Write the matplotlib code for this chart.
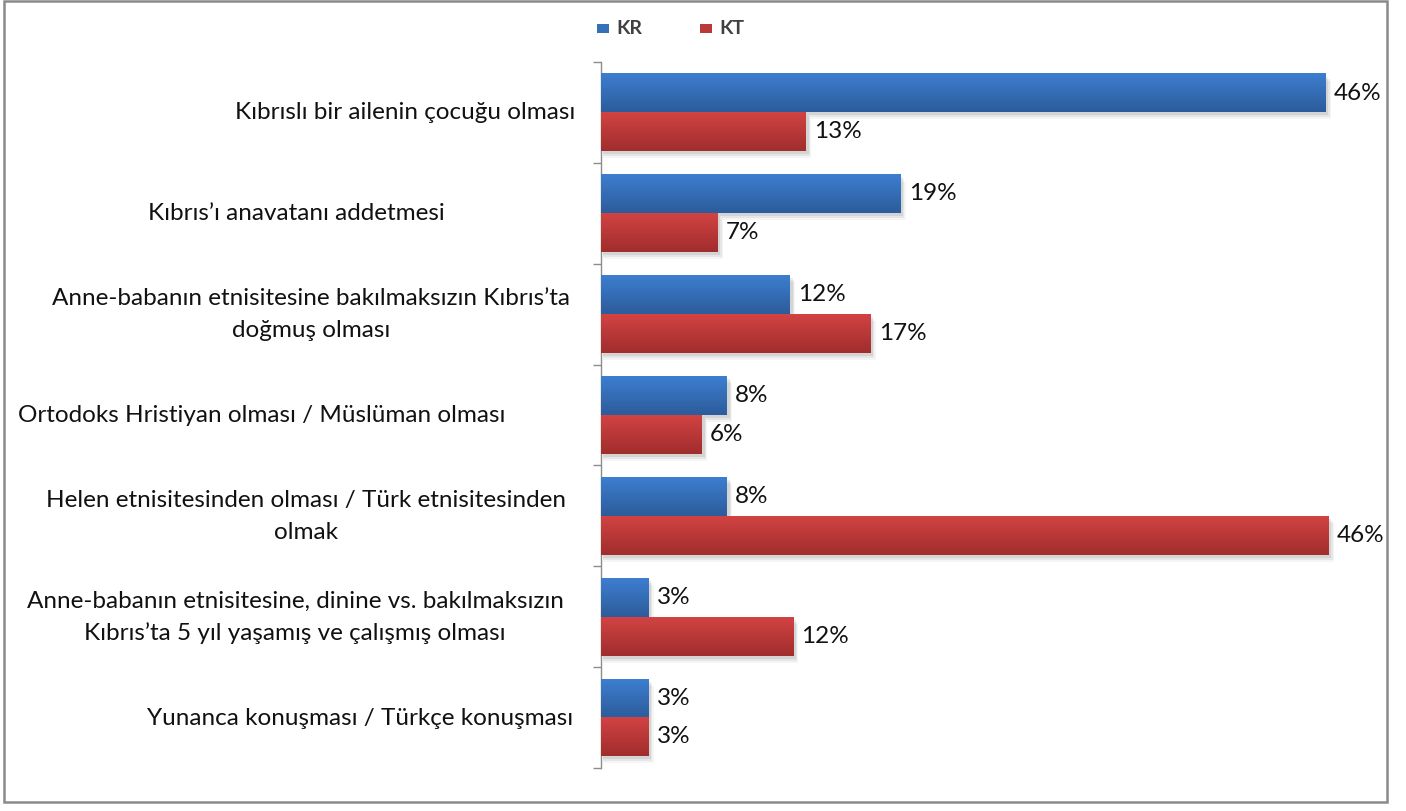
import numpy as np
import matplotlib
matplotlib.use("Agg")
import matplotlib.pyplot as plt
from matplotlib.patches import Rectangle
from matplotlib.colors import LinearSegmentedColormap

plt.rcParams["font.family"] = ["Lato", "DejaVu Sans"]

categories = [
    "Kıbrıslı bir ailenin çocuğu olması",
    "Kıbrıs’ı anavatanı addetmesi",
    "Anne-babanın etnisitesine bakılmaksızın Kıbrıs’ta\ndoğmuş olması",
    "Ortodoks Hristiyan olması / Müslüman olması",
    "Helen etnisitesinden olması / Türk etnisitesinden\nolmak",
    "Anne-babanın etnisitesine, dinine vs. bakılmaksızın\nKıbrıs’ta 5 yıl yaşamış ve çalışmış olması",
    "Yunanca konuşması / Türkçe konuşması",
]
kr_values = [46.0, 19.0, 12.0, 8.0, 8.0, 3.0, 3.0]
kt_values = [13.0, 7.4, 17.1, 6.4, 46.2, 12.2, 3.0]
series_names = ["KR", "KT"]

# label centre x (pixels) - the original labels are not all aligned the same way
label_cx = [405, 296, 311, 262, 306, 295, 360]

W, H = 1406, 811
fig = plt.figure(figsize=(W / 100, H / 100), dpi=100)
ax = fig.add_axes([601 / W, 1 - 768 / H, 789 / W, 706 / H])

blue_cmap = LinearSegmentedColormap.from_list("b", ["#3d7ed0", "#2c5c9b"])
red_cmap = LinearSegmentedColormap.from_list("r", ["#d24343", "#a12d2d"])
grad = np.linspace(0, 1, 64).reshape(-1, 1)

y = np.arange(len(categories))
h = 0.385
for vals, off, cmap, col in [(kr_values, -h / 2, blue_cmap, "#3670b8"),
                             (kt_values, h / 2, red_cmap, "#bb3838")]:
    bars = ax.barh(y + off, vals, height=h, color=col, zorder=3)
    for b, v in zip(bars, vals):
        x0, y0 = b.get_x(), b.get_y()
        w, bh = b.get_width(), b.get_height()
        # soft shadow under the bar
        for k, a in enumerate([0.08, 0.06, 0.04]):
            ax.add_patch(Rectangle((x0 + 0.1, y0 + 0.03 + 0.02 * k), w + 0.08 * (k + 1), bh,
                                   color="#000000", alpha=a, lw=0, zorder=2))
        ax.imshow(grad, cmap=cmap, aspect="auto", extent=(x0, x0 + w, y0 + bh, y0),
                  zorder=4, interpolation="bilinear")
        ax.annotate(f"{v:.0f}%", (v, y0 + bh / 2), xytext=(6, 0), textcoords="offset points",
                    ha="left", va="center", fontsize=17.5, color="#111111", zorder=5)

ax.set_xlim(0, 50.1)
ax.set_ylim(len(categories) - 0.5, -0.5)
ax.set_yticks(np.arange(-0.5, len(categories), 1.0))
ax.set_yticklabels([])
ax.tick_params(axis="y", direction="out", length=6, color="#8c8c8c", width=1)
ax.set_xticks([])
for s in ["top", "right", "bottom"]:
    ax.spines[s].set_visible(False)
ax.spines["left"].set_color("#8c8c8c")
ax.spines["left"].set_linewidth(1)

for i, (lab, cx) in enumerate(zip(categories, label_cx)):
    fig.text(cx / W, 1 - (62 + 101 * (i + 0.5)) / H, lab, ha="center", va="center",
             multialignment="center", fontsize=17.5, color="#111111", linespacing=1.6)

# legend
for name, col, lx in zip(series_names, ["#3670b8", "#bb3838"], [597, 700]):
    fig.patches.append(Rectangle((lx / W, 1 - 33 / H), 12 / W, 9 / H, transform=fig.transFigure,
                                 color=col, lw=0))
    fig.text((lx + 19) / W, 1 - 28 / H, name, ha="left", va="center", fontsize=14,
             fontweight="bold", color="#404040")

# chart border
fig.patches.append(Rectangle((4 / W, 1 - 802 / H), 1383 / W, 801 / H, transform=fig.transFigure,
                             fill=False, ec="#8a8a8a", lw=1.8))

fig.savefig("out.png", dpi=100)
